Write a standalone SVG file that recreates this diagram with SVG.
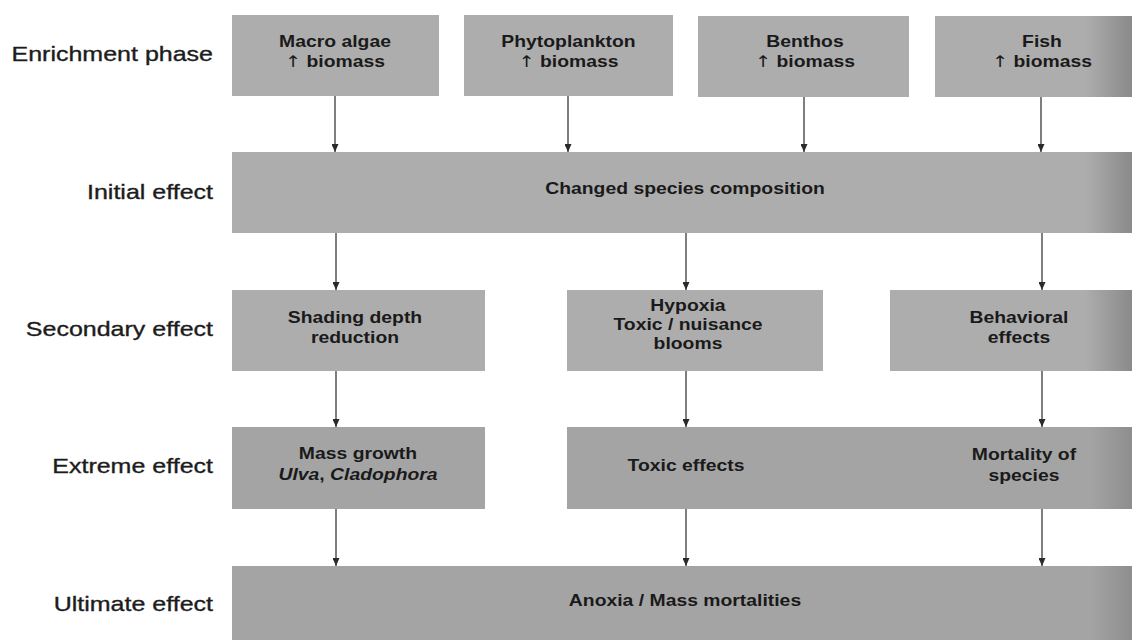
<svg xmlns="http://www.w3.org/2000/svg" width="1132" height="640" viewBox="0 0 1132 640">
  <style>
    .lbl { font-family: "Liberation Sans", Arial, Helvetica, sans-serif; font-size: 20.5px; fill: #1c1c1c; stroke: #1c1c1c; stroke-width: 0.35; text-anchor: end; }
    .bt { font-family: "Liberation Sans", Arial, Helvetica, sans-serif; font-size: 16px; font-weight: bold; fill: #1a1a1a; text-anchor: middle; }
    .up { font-family: "DejaVu Sans", sans-serif; font-weight: normal; fill: #1a1a1a; }
    .b1 { fill: #adadad; }
    .b2 { fill: #a4a4a4; }
    .arr { stroke: #3a3a3a; stroke-width: 1.3; fill: none; marker-end: url(#ah); }
  </style>
  <defs>
    <marker id="ah" markerUnits="userSpaceOnUse" markerWidth="8" markerHeight="7" refX="8" refY="3.5" orient="auto">
      <path d="M0,0 L8,3.5 L0,7 z" fill="#2a2a2a"/>
    </marker>
    <linearGradient id="gr1" gradientUnits="userSpaceOnUse" x1="1085" y1="0" x2="1132" y2="0">
      <stop offset="0" stop-color="#adadad"/>
      <stop offset="1" stop-color="#8a8a8a"/>
    </linearGradient>
    <linearGradient id="gr2" gradientUnits="userSpaceOnUse" x1="1090" y1="0" x2="1132" y2="0">
      <stop offset="0" stop-color="#a4a4a4"/>
      <stop offset="1" stop-color="#8e8e8e"/>
    </linearGradient>
  </defs>
  <rect width="1132" height="640" fill="#ffffff"/>

  <g id="row-labels">
    <text class="lbl" transform="translate(213 0) scale(1.22 1)" x="0" y="61">Enrichment phase</text>
    <text class="lbl" transform="translate(213 0) scale(1.22 1)" x="0" y="199">Initial effect</text>
    <text class="lbl" transform="translate(213 0) scale(1.22 1)" x="0" y="336">Secondary effect</text>
    <text class="lbl" transform="translate(213 0) scale(1.22 1)" x="0" y="473">Extreme effect</text>
    <text class="lbl" transform="translate(213 0) scale(1.22 1)" x="0" y="611">Ultimate effect</text>
  </g>

  <g id="connectors">
    <line class="arr" x1="335" y1="96" x2="335" y2="152"/>
    <line class="arr" x1="568" y1="96" x2="568" y2="152"/>
    <line class="arr" x1="804" y1="97" x2="804" y2="152"/>
    <line class="arr" x1="1041" y1="97" x2="1041" y2="152"/>
    <line class="arr" x1="336" y1="233" x2="336" y2="290"/>
    <line class="arr" x1="686" y1="233" x2="686" y2="290"/>
    <line class="arr" x1="1042" y1="233" x2="1042" y2="290"/>
    <line class="arr" x1="336" y1="371" x2="336" y2="427"/>
    <line class="arr" x1="686" y1="371" x2="686" y2="427"/>
    <line class="arr" x1="1042" y1="371" x2="1042" y2="427"/>
    <line class="arr" x1="336" y1="509" x2="336" y2="566"/>
    <line class="arr" x1="686" y1="509" x2="686" y2="566"/>
    <line class="arr" x1="1042" y1="509" x2="1042" y2="566"/>
  </g>

  <g id="macro-algae">
    <rect class="b1" x="232" y="15" width="207" height="81"/>
    <g transform="translate(335 0) scale(1.21 1)">
      <text class="bt" x="0" y="47">Macro algae</text>
      <text class="bt" x="0" y="67"><tspan class="up">↑</tspan> biomass</text>
    </g>
  </g>
  <g id="phytoplankton">
    <rect class="b1" x="464" y="15" width="209" height="81"/>
    <g transform="translate(568.5 0) scale(1.21 1)">
      <text class="bt" x="0" y="47">Phytoplankton</text>
      <text class="bt" x="0" y="67"><tspan class="up">↑</tspan> biomass</text>
    </g>
  </g>
  <g id="benthos">
    <rect class="b1" x="698" y="16" width="211" height="81"/>
    <g transform="translate(805 0) scale(1.21 1)">
      <text class="bt" x="0" y="47">Benthos</text>
      <text class="bt" x="0" y="67"><tspan class="up">↑</tspan> biomass</text>
    </g>
  </g>
  <g id="fish">
    <rect x="935" y="16" width="197" height="81" fill="url(#gr1)"/>
    <g transform="translate(1042 0) scale(1.21 1)">
      <text class="bt" x="0" y="47">Fish</text>
      <text class="bt" x="0" y="67"><tspan class="up">↑</tspan> biomass</text>
    </g>
  </g>

  <g id="changed-species">
    <rect x="232" y="152" width="900" height="81" fill="url(#gr1)"/>
    <g transform="translate(685 0) scale(1.21 1)">
      <text class="bt" x="0" y="194">Changed species composition</text>
    </g>
  </g>

  <g id="shading">
    <rect class="b1" x="232" y="290" width="253" height="81"/>
    <g transform="translate(355 0) scale(1.21 1)">
      <text class="bt" x="0" y="323">Shading depth</text>
      <text class="bt" x="0" y="343">reduction</text>
    </g>
  </g>
  <g id="hypoxia">
    <rect class="b1" x="567" y="290" width="256" height="81"/>
    <g transform="translate(688 0) scale(1.21 1)">
      <text class="bt" x="0" y="311">Hypoxia</text>
      <text class="bt" x="0" y="330">Toxic / nuisance</text>
      <text class="bt" x="0" y="349">blooms</text>
    </g>
  </g>
  <g id="behavioral">
    <rect x="890" y="290" width="242" height="81" fill="url(#gr1)"/>
    <g transform="translate(1019 0) scale(1.21 1)">
      <text class="bt" x="0" y="323">Behavioral</text>
      <text class="bt" x="0" y="343">effects</text>
    </g>
  </g>

  <g id="mass-growth">
    <rect class="b2" x="232" y="427" width="253" height="82"/>
    <g transform="translate(358 0) scale(1.21 1)">
      <text class="bt" x="0" y="459">Mass growth</text>
      <text class="bt" x="0" y="480"><tspan font-style="italic">Ulva</tspan>, <tspan font-style="italic">Cladophora</tspan></text>
    </g>
  </g>
  <g id="toxic-mortality">
    <rect x="567" y="427" width="565" height="82" fill="url(#gr2)"/>
    <g transform="translate(686 0) scale(1.21 1)">
      <text class="bt" x="0" y="471">Toxic effects</text>
    </g>
    <g transform="translate(1024 0) scale(1.21 1)">
      <text class="bt" x="0" y="460">Mortality of</text>
      <text class="bt" x="0" y="481">species</text>
    </g>
  </g>

  <g id="anoxia">
    <rect x="232" y="566" width="900" height="74" fill="url(#gr2)"/>
    <g transform="translate(685 0) scale(1.21 1)">
      <text class="bt" x="0" y="606">Anoxia / Mass mortalities</text>
    </g>
  </g>
</svg>
